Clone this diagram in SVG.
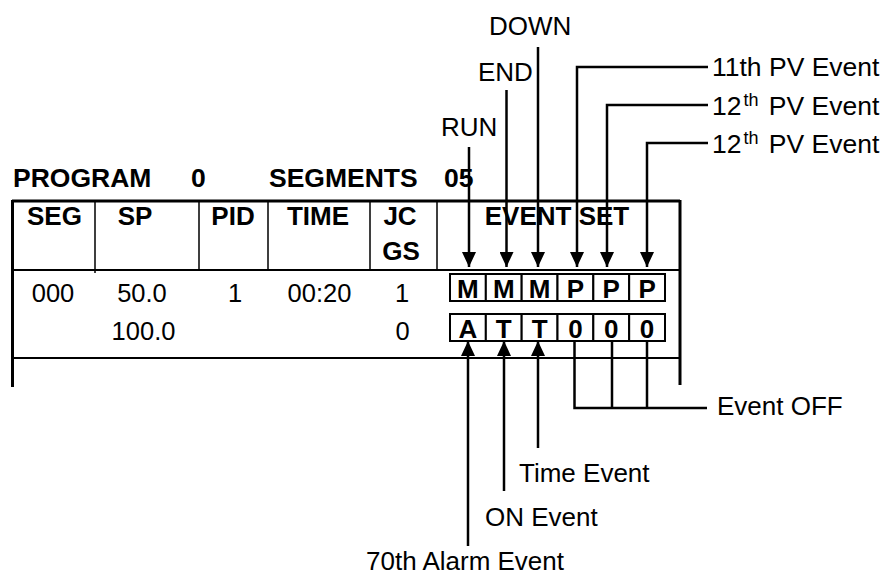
<svg xmlns="http://www.w3.org/2000/svg" width="890" height="576" viewBox="0 0 890 576">
<defs>
<style>
text{font-family:"Liberation Sans",Arial,sans-serif;fill:#000}
.l{font-size:26px}
.r{font-size:26.5px}
.h{font-size:26.5px;font-weight:bold}
.t{font-size:25.5px}
.b{font-size:26px;font-weight:bold}
.m{text-anchor:middle}
.sup{font-size:18px}
.conn{stroke:#000;stroke-width:2.5;fill:none}
.thick{stroke:#000;stroke-width:3;fill:none}
.thin{stroke:#000;stroke-width:1.5;fill:none}
.row{stroke:#000;stroke-width:2;fill:none}
.box{stroke:#000;stroke-width:2;fill:#fff}
</style>
<marker id="ah" viewBox="0 0 15 14" refX="15" refY="7" markerWidth="15" markerHeight="14" orient="auto" markerUnits="userSpaceOnUse">
<path d="M0,0 L15,7 L0,14 z" fill="#000"/>
</marker>
</defs>
<rect width="890" height="576" fill="#fff"/>

<g id="title">
<text class="h" x="13" y="187">PROGRAM</text>
<text class="h" x="191" y="187">0</text>
<text class="h" x="269" y="187">SEGMENTS</text>
<text class="h" x="444" y="187">05</text>
</g>

<g id="table">
<path class="thick" d="M12,201 H680 M12.5,200 V387 M680,200 V385"/>
<path class="row" d="M12,270 H680 M12,358 H680"/>
<path class="thin" d="M95,201 V273 M199,201 V270 M268,201 V270 M370,201 V270 M437,201 V270"/>
<text class="b m" x="54.5" y="225">SEG</text>
<text class="b m" x="135" y="225">SP</text>
<text class="b m" x="233" y="225">PID</text>
<text class="b m" x="318" y="225">TIME</text>
<text class="b m" x="400" y="225">JC</text>
<text class="b m" x="401" y="260">GS</text>
<text class="b m" x="557" y="225">EVENT SET</text>
<text class="t m" x="53" y="302">000</text>
<text class="t m" x="142" y="302">50.0</text>
<text class="t m" x="143.5" y="340">100.0</text>
<text class="t m" x="235" y="302">1</text>
<text class="t m" x="319.5" y="302">00:20</text>
<text class="t m" x="402" y="302">1</text>
<text class="t m" x="402.5" y="340">0</text>
</g>

<g id="event-m">
<rect class="box" x="450" y="274" width="35.83" height="27"/>
<rect class="box" x="485.83" y="274" width="35.83" height="27"/>
<rect class="box" x="521.67" y="274" width="35.83" height="27"/>
<rect class="box" x="557.5" y="274" width="35.83" height="27"/>
<rect class="box" x="593.33" y="274" width="35.83" height="27"/>
<rect class="box" x="629.17" y="274" width="35.83" height="27"/>
<text class="b m" x="467.9" y="298">M</text>
<text class="b m" x="503.75" y="298">M</text>
<text class="b m" x="539.6" y="298">M</text>
<text class="b m" x="575.4" y="298">P</text>
<text class="b m" x="611.25" y="298">P</text>
<text class="b m" x="647.1" y="298">P</text>
</g>

<g id="event-a">
<rect class="box" x="450" y="314" width="35.83" height="27"/>
<rect class="box" x="485.83" y="314" width="35.83" height="27"/>
<rect class="box" x="521.67" y="314" width="35.83" height="27"/>
<rect class="box" x="557.5" y="314" width="35.83" height="27"/>
<rect class="box" x="593.33" y="314" width="35.83" height="27"/>
<rect class="box" x="629.17" y="314" width="35.83" height="27"/>
<text class="b m" x="467.9" y="338">A</text>
<text class="b m" x="503.75" y="338">T</text>
<text class="b m" x="539.6" y="338">T</text>
<text class="b m" x="575.4" y="338">0</text>
<text class="b m" x="611.25" y="338">0</text>
<text class="b m" x="647.1" y="338">0</text>
</g>

<g id="label-down"><text class="l" x="489" y="34.5">DOWN</text></g>
<g id="label-end"><text class="l" x="478" y="80.5">END</text></g>
<g id="label-run"><text class="l" x="441" y="136">RUN</text></g>
<g id="label-pv11"><text class="r" x="712" y="76">11th PV Event</text></g>
<g id="label-pv12a"><text class="r" x="712" y="114.5">12<tspan class="sup" dx="2" dy="-9">th</tspan><tspan dx="3" dy="9"> PV Event</tspan></text></g>
<g id="label-pv12b"><text class="r" x="712" y="153">12<tspan class="sup" dx="2" dy="-9">th</tspan><tspan dx="3" dy="9"> PV Event</tspan></text></g>
<g id="label-off"><text class="l" x="717" y="415">Event OFF</text></g>
<g id="label-time"><text class="l" x="519" y="481.7">Time Event</text></g>
<g id="label-on"><text class="l" x="485" y="526">ON Event</text></g>
<g id="label-alarm"><text class="l" x="366" y="570">70th Alarm Event</text></g>

<g id="connectors">
<path class="conn" d="M469,147 V267" marker-end="url(#ah)"/>
<path class="conn" d="M506.5,90 V267" marker-end="url(#ah)"/>
<path class="conn" d="M538,47 V267" marker-end="url(#ah)"/>
<path class="conn" d="M708,67 H577 V267" marker-end="url(#ah)"/>
<path class="conn" d="M708,105 H607 V267" marker-end="url(#ah)"/>
<path class="conn" d="M708,143 H647 V267" marker-end="url(#ah)"/>
<path class="conn" d="M468,546 V341" marker-end="url(#ah)"/>
<path class="conn" d="M504,491 V341" marker-end="url(#ah)"/>
<path class="conn" d="M538,448 V341" marker-end="url(#ah)"/>
<path class="conn" d="M574.5,341 V408 H707 M612,341 V408 M647,341 V408"/>
</g>
</svg>
